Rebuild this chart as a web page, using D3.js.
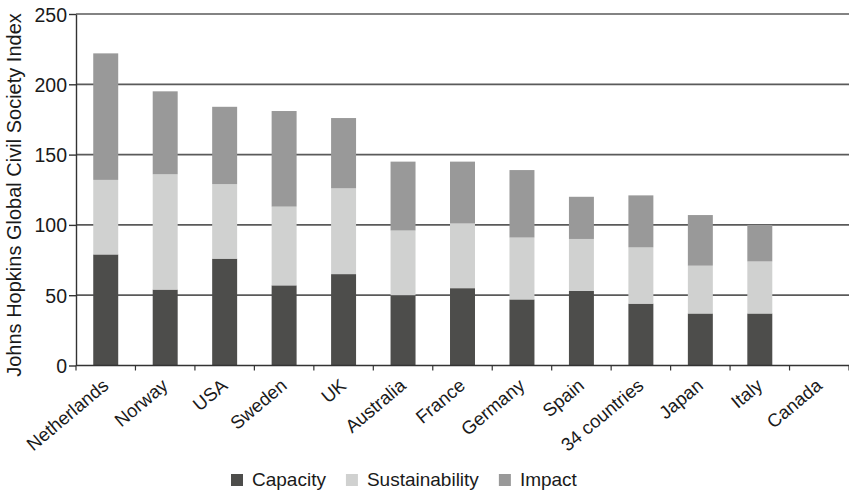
<!DOCTYPE html>
<html>
<head>
<meta charset="utf-8">
<script src="https://cdn.jsdelivr.net/npm/d3@7"></script>
<style>
  html, body { margin: 0; padding: 0; background: #fff; }
  svg { display: block; font-family: "Liberation Sans", Arial, Helvetica, sans-serif; }
</style>
</head>
<body>
<svg id="chart" width="849" height="490"></svg>
<script>
// Johns Hopkins Global Civil Society Index, by dimension
const categories = ["Netherlands", "Norway", "USA", "Sweden", "UK", "Australia", "France",
  "Germany", "Spain", "34 countries", "Japan", "Italy", "Canada"];
const capacity       = [79, 54, 76, 57, 65, 50, 55, 47, 53, 44, 37, 37, 0];
const sustainability = [53, 82, 53, 56, 61, 46, 46, 44, 37, 40, 34, 37, 0];
const impact         = [90, 59, 55, 68, 50, 49, 44, 48, 30, 37, 36, 26, 0];
const seriesNames  = ["Capacity", "Sustainability", "Impact"];
const seriesColors = ["#4d4d4b", "#d0d1d0", "#999999"];
const yTicks = [0, 50, 100, 150, 200, 250];
const yTitle = "Johns Hopkins Global Civil Society Index";

const svg = d3.select("#chart");
const plotLeft = 76, plotRight = 849, plotTop = 14, plotBottom = 365.5;

const rows = categories.map((c, i) => ({
  category: c, Capacity: capacity[i], Sustainability: sustainability[i], Impact: impact[i]
}));
const stacked = d3.stack().keys(seriesNames)(rows);

const x = d3.scaleBand().domain(categories).range([plotLeft, plotRight])
  .paddingInner(0.58).paddingOuter(0.29);
const y = d3.scaleLinear().domain([0, 250]).range([plotBottom, plotTop]);
const color = d3.scaleOrdinal().domain(seriesNames).range(seriesColors);

// horizontal grid lines
svg.append("g").selectAll("line")
  .data(yTicks.filter(t => t > 0))
  .join("line")
  .attr("x1", plotLeft).attr("x2", plotRight)
  .attr("y1", d => y(d)).attr("y2", d => y(d))
  .attr("stroke", "#5a5a5a").attr("stroke-width", 1.7);

// stacked bars
svg.append("g").selectAll("g")
  .data(stacked)
  .join("g")
  .attr("fill", d => color(d.key))
  .selectAll("rect")
  .data(d => d)
  .join("rect")
  .attr("x", d => x(d.data.category))
  .attr("width", x.bandwidth())
  .attr("y", d => y(d[1]))
  .attr("height", d => y(d[0]) - y(d[1]));

// y axis
const yAxis = svg.append("g")
  .attr("transform", `translate(${plotLeft},0)`)
  .call(d3.axisLeft(y).tickValues(yTicks).tickSize(7).tickPadding(2).tickSizeOuter(0));
yAxis.select(".domain").attr("stroke", "#333").attr("stroke-width", 1.4);
yAxis.selectAll(".tick line").attr("stroke", "#333").attr("stroke-width", 1.4);
yAxis.selectAll(".tick text")
  .attr("fill", "#1a1a1a").style("font-size", "19.5px").attr("dy", "0.36em");

// x axis: baseline with ticks between categories
const step = x.step();
const bandEdges = d3.range(categories.length + 1).map(i => plotLeft + i * step);
const xAxis = svg.append("g");
xAxis.append("line")
  .attr("x1", plotLeft).attr("x2", plotRight).attr("y1", y(0)).attr("y2", y(0))
  .attr("stroke", "#333").attr("stroke-width", 1.4);
xAxis.selectAll("line.tk")
  .data(bandEdges)
  .join("line").attr("class", "tk")
  .attr("x1", d => d).attr("x2", d => d)
  .attr("y1", y(0)).attr("y2", y(0) + 5)
  .attr("stroke", "#333").attr("stroke-width", 1.2);
xAxis.selectAll("text")
  .data(categories)
  .join("text")
  .attr("transform", d => `translate(${x(d) + x.bandwidth() / 2 + 4},${y(0) + 22}) rotate(-40)`)
  .attr("text-anchor", "end")
  .attr("fill", "#1a1a1a")
  .style("font-size", "18.5px")
  .text(d => d);

// y axis title
svg.append("text")
  .attr("transform", `translate(21,195) rotate(-90)`)
  .attr("text-anchor", "middle")
  .attr("fill", "#1a1a1a")
  .style("font-size", "20px")
  .text(yTitle);

// legend
const legend = svg.append("g");
let lx = 231;
seriesNames.forEach(name => {
  legend.append("rect")
    .attr("x", lx).attr("y", 474).attr("width", 12).attr("height", 12)
    .attr("fill", color(name));
  const t = legend.append("text")
    .attr("x", lx + 21).attr("y", 486)
    .attr("fill", "#1a1a1a")
    .style("font-size", "19px")
    .text(name);
  lx += 21 + t.node().getComputedTextLength() + 20;
});
</script>
</body>
</html>
